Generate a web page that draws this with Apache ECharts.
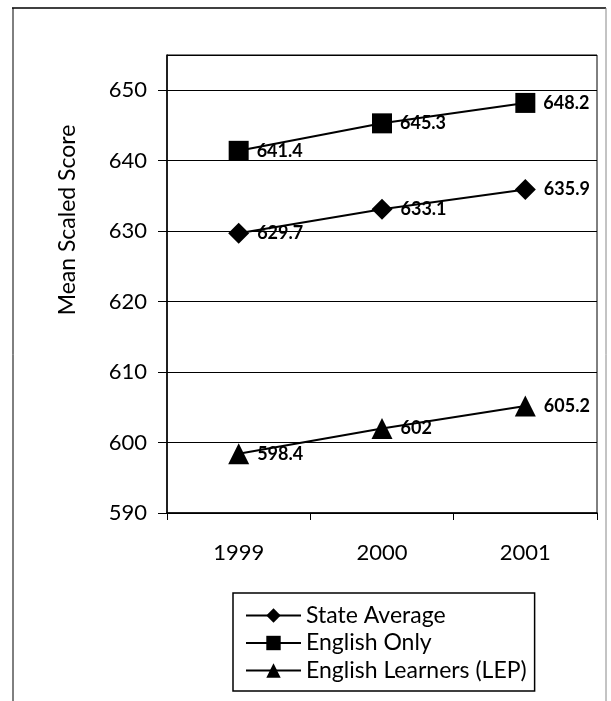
<!DOCTYPE html>
<html><head><meta charset="utf-8">
<script src="https://cdn.jsdelivr.net/npm/echarts@6/dist/echarts.min.js"></script>
<style>html,body{margin:0;padding:0;background:#fff}#c{width:611px;height:701px}</style>
</head><body><div id="c"></div>
<script>
const years = ['1999', '2000', '2001'];
const stateAverage = [629.7, 633.1, 635.9];
const englishOnly = [641.4, 645.3, 648.2];
const englishLearners = [598.4, 602, 605.2];
const seriesNames = ['State Average', 'English Only', 'English Learners (LEP)'];

const FONT = 'Lato';
const chart = echarts.init(document.getElementById('c'));
function mk(name, data, symbol, size) {
  return {
    name, type: 'line', data, symbol, symbolSize: size,
    itemStyle: {color: '#000'},
    lineStyle: {color: '#000', width: 2},
    label: {show: true, position: 'right', distance: 8, color: '#000',
      fontFamily: FONT, fontWeight: 'bold', fontSize: 18},
    z: 3
  };
}
chart.setOption({
  animation: false,
  backgroundColor: '#fff',
  grid: {left: 167, top: 55, right: 14, bottom: 188, show: true, borderColor: '#000', borderWidth: 1},
  xAxis: {
    type: 'category', data: years, boundaryGap: true,
    axisLine: {lineStyle: {color: '#000', width: 1.5}},
    axisTick: {show: true, inside: false, length: 7, lineStyle: {color: '#000'}},
    axisLabel: {color: '#000', fontFamily: FONT, fontSize: 22, margin: 29}
  },
  yAxis: {
    type: 'value', min: 590, max: 655, interval: 10,
    axisLine: {show: true, lineStyle: {color: '#000', width: 1.5}},
    axisTick: {show: true, inside: false, length: 9, lineStyle: {color: '#000'}},
    axisLabel: {color: '#000', fontFamily: FONT, fontSize: 22, margin: 20, showMaxLabel: false},
    splitLine: {show: true, lineStyle: {color: '#000', width: 1.2}}
  },
  legend: {
    orient: 'vertical', left: 233, top: 593,
    padding: [11, 8, 9, 12],
    borderColor: '#000', borderWidth: 1.5,
    itemWidth: 55, itemHeight: 18, itemGap: 4.5,
    textStyle: {color: '#000', fontFamily: FONT, fontSize: 23, lineHeight: 22, padding: [0, 0, 0, 0]},
    data: seriesNames
  },
  graphic: [
    {type: 'line', shape: {x1: 12, y1: 8, x2: 606, y2: 8}, style: {stroke: '#000', lineWidth: 1.5}},
    {type: 'line', shape: {x1: 13, y1: 8, x2: 13, y2: 701}, style: {stroke: '#000', lineWidth: 1}},
    {type: 'line', shape: {x1: 606, y1: 8, x2: 606, y2: 701}, style: {stroke: '#888', lineWidth: 1}},
    {type: 'text', x: 68, y: 220, rotation: Math.PI / 2,
      style: {text: 'Mean Scaled Score', fill: '#000', font: '23px ' + FONT, align: 'center', verticalAlign: 'middle'}}
  ],
  series: [
    mk(seriesNames[0], stateAverage, 'diamond', 21),
    mk(seriesNames[1], englishOnly, 'rect', 20),
    mk(seriesNames[2], englishLearners, 'triangle', 21)
  ]
});
</script></body></html>
